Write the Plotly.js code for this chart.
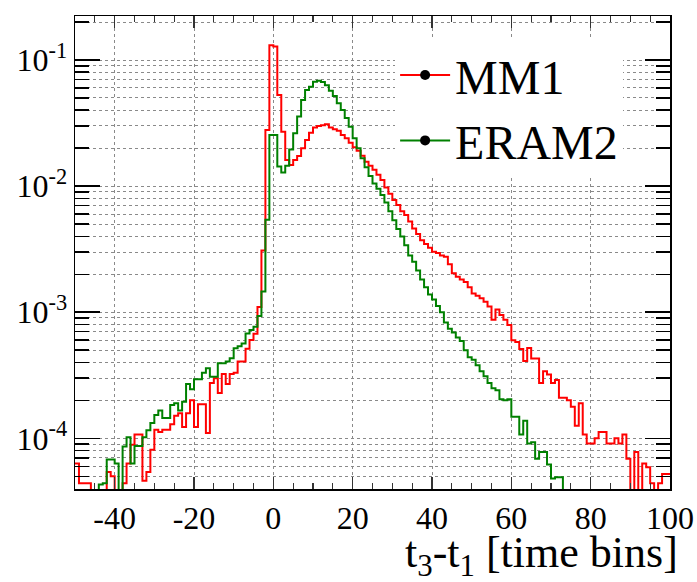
<!DOCTYPE html>
<html><head><meta charset="utf-8">
<script src="https://cdn.plot.ly/plotly-3.0.1.min.js"></script>
<style>html,body{margin:0;padding:0;background:#fff}#chart{width:697px;height:582px}</style>
</head><body><div id="chart"></div>
<script>
// histogram range and binning (bins of 1 time bin from -50 to 100)
const xMin = -50, xMax = 100, binWidth = 1;

// MM1 normalised counts, one value per bin from -50 to 99
const mm1 = [
  6.3e-5, 4.4e-5, 4.4e-5, 4.4e-5, 0, 0, 0, 0, 5.4e-5, 5.0e-5,
  0, 0, 4.4e-5, 6.3e-5, 8.9e-5, 1.07e-4, 1.07e-4, 4.6e-5, 5.4e-5, 8.1e-5,
  1.17e-4, 1.12e-4, 1.17e-4, 1.17e-4, 1.29e-4, 1.51e-4, 1.58e-4, 1.23e-4, 1.58e-4, 2.0e-4,
  1.23e-4, 1.86e-4, 1.86e-4, 1.10e-4, 2.75e-4, 3.0e-4, 2.29e-4, 3.24e-4, 2.69e-4, 3.24e-4,
  3.31e-4, 4.07e-4, 4.07e-4, 5.13e-4, 6.03e-4, 6.76e-4, 1.10e-3, 3.09e-3, 0.0279, 0.131,
  0.128, 0.0527, 0.027, 0.0161, 0.0147, 0.0161, 0.0173, 0.0200, 0.0232, 0.0265,
  0.0292, 0.0300, 0.0304, 0.0309, 0.0292, 0.0282, 0.0275, 0.0254, 0.0240, 0.0221,
  0.0203, 0.0191, 0.0174, 0.0156, 0.0145, 0.0135, 0.0123, 0.0112, 0.00977, 0.00871,
  0.00776, 0.00708, 0.00631, 0.00590, 0.00525, 0.00462, 0.00417, 0.00372, 0.00347, 0.00324,
  0.00302, 0.00295, 0.00282, 0.00275, 0.00240, 0.00204, 0.00191, 0.00182, 0.00174, 0.00158,
  0.00141, 0.00135, 0.00129, 0.00121, 0.00111, 0.00087, 0.00105, 0.00095, 0.00087, 0.00079,
  6.0e-4, 5.8e-4, 5.1e-4, 4.1e-4, 5.2e-4, 4.3e-4, 4.3e-4, 2.75e-4, 3.4e-4, 3.2e-4,
  2.75e-4, 2.9e-4, 2.1e-4, 2.1e-4, 2.0e-4, 1.78e-4, 1.26e-4, 1.9e-4, 1.07e-4, 9.1e-5,
  9.1e-5, 1.0e-4, 1.12e-4, 1.12e-4, 9.1e-5, 9.1e-5, 1.0e-4, 9.1e-5, 1.07e-4, 6.9e-5,
  0, 7.8e-5, 0, 6.3e-5, 5.9e-5, 4.4e-5, 0, 4.4e-5, 5.2e-5, 5.2e-5
];

// ERAM2 normalised counts, one value per bin from -50 to 99
const eram2 = [
  0, 0, 0, 0, 0, 0, 4.3e-5, 4.4e-5, 6.8e-5, 6.8e-5,
  6.3e-5, 0, 8.6e-5, 1.02e-4, 6.3e-5, 8.7e-5, 8.7e-5, 1.02e-4, 1.16e-4, 1.32e-4,
  1.53e-4, 1.66e-4, 1.45e-4, 1.45e-4, 1.84e-4, 1.90e-4, 1.66e-4, 1.95e-4, 2.70e-4, 2.45e-4,
  2.94e-4, 2.94e-4, 3.31e-4, 3.59e-4, 3.08e-4, 3.08e-4, 3.94e-4, 3.94e-4, 4.07e-4, 4.31e-4,
  5.18e-4, 5.37e-4, 5.66e-4, 6.79e-4, 7.23e-4, 7.67e-4, 9.33e-4, 1.46e-3, 5.4e-3, 0.0254,
  0.0254, 0.0143, 0.0128, 0.0145, 0.0195, 0.0262, 0.0356, 0.0482, 0.0578, 0.0614,
  0.0673, 0.0686, 0.0668, 0.0631, 0.0571, 0.0519, 0.0454, 0.0401, 0.0347, 0.0295,
  0.0240, 0.0200, 0.0166, 0.0141, 0.0120, 0.0105, 0.00955, 0.00851, 0.00741, 0.00631,
  0.00537, 0.00457, 0.00398, 0.00339, 0.00282, 0.00251, 0.00214, 0.00182, 0.00158, 0.00138,
  0.00126, 0.00112, 0.00100, 0.00083, 0.00074, 0.00069, 0.00063, 0.00059, 0.00050, 0.00044,
  4.2e-4, 3.8e-4, 3.4e-4, 3.1e-4, 2.75e-4, 2.5e-4, 2.4e-4, 2.04e-4, 2.0e-4, 2.04e-4,
  1.48e-4, 1.48e-4, 1.07e-4, 1.38e-4, 9.1e-5, 9.3e-5, 6.9e-5, 7.8e-5, 7.8e-5, 6.2e-5,
  4.8e-5, 4.9e-5, 4.9e-5, 0, 0, 0, 0, 0, 0, 0,
  0, 0, 0, 0, 0, 0, 0, 0, 0, 0,
  0, 0, 0, 0, 0, 0, 0, 0, 0, 0
];

const seriesNames = ['MM1', 'ERAM2'];
const xTickVals = [-40, -20, 0, 20, 40, 60, 80, 100];
const xTickText = ['-40', '-20', '0', '20', '40', '60', '80', '100'];
const yTickVals = [1e-4, 1e-3, 1e-2, 1e-1];
const yTickText = ['10<sup>-4</sup>', '10<sup>-3</sup>', '10<sup>-2</sup>', '10<sup>-1</sup>'];
const xTitle = 't<sub>3</sub>-t<sub>1</sub> [time bins]';

const FONT = '"Liberation Serif", "Times New Roman", serif';
const RED = 'rgb(255,0,0)';
const GREEN = 'rgb(0,128,0)';

// minor log ticks 2..9 in each decade
const yMinorVals = [];
for (let d = -5; d <= 0; d++) for (let k = 2; k <= 9; k++) yMinorVals.push(k * Math.pow(10, d));

// build a histogram step outline (empty bins drop below the axis)
function stepXY(vals) {
  const floor = 1e-7;
  const xs = [], ys = [];
  vals.forEach((v, i) => { xs.push(xMin + i * binWidth); ys.push(v > 0 ? v : floor); });
  xs.push(xMax); ys.push(vals[vals.length - 1] > 0 ? vals[vals.length - 1] : floor);
  return {xs, ys};
}

const s1 = stepXY(mm1), s2 = stepXY(eram2);
const traces = [
  {x: s1.xs, y: s1.ys, mode: 'lines', line: {shape: 'hv', color: RED, width: 2}, showlegend: false, hoverinfo: 'skip'},
  {x: s2.xs, y: s2.ys, mode: 'lines', line: {shape: 'hv', color: GREEN, width: 2}, showlegend: false, hoverinfo: 'skip'},
  {x: [null], y: [null], name: seriesNames[0], mode: 'lines+markers', line: {color: RED, width: 2}, marker: {color: '#000', size: 10}},
  {x: [null], y: [null], name: seriesNames[1], mode: 'lines+markers', line: {color: GREEN, width: 2}, marker: {color: '#000', size: 10}}
];

const gridStyle = {gridcolor: '#8a8a8a', griddash: 'dot', gridwidth: 1};
const layout = {
  width: 697, height: 582,
  margin: {l: 75, r: 27, t: 16, b: 93},
  paper_bgcolor: '#fff', plot_bgcolor: '#fff',
  font: {family: FONT, color: '#000'},
  showlegend: true,
  legend: {x: 0.538, y: 0.955, xanchor: 'left', yanchor: 'top', bgcolor: '#fff', borderwidth: 0,
           font: {size: 48, family: FONT, color: '#000'}, itemwidth: 50, tracegroupgap: 0},
  xaxis: Object.assign({
    range: [xMin, xMax], tickmode: 'array', tickvals: xTickVals, ticktext: xTickText,
    ticks: 'inside', ticklen: 12, tickwidth: 1.2, tickcolor: '#333',
    showline: true, linecolor: '#000', linewidth: 1.5, mirror: 'allticks',
    showgrid: true, zeroline: false,
    tickfont: {size: 32, family: FONT, color: '#000'},
    minor: {tickmode: 'linear', tick0: 0, dtick: 5, ticks: 'inside', ticklen: 6, tickcolor: '#333', tickwidth: 1.2, showgrid: false}
  }, gridStyle),
  yaxis: Object.assign({
    type: 'log', range: [-4.402, -0.651],
    tickmode: 'array', tickvals: yTickVals, ticktext: yTickText,
    ticks: 'inside', ticklen: 25, tickwidth: 1.5, tickcolor: '#000',
    showline: true, linecolor: '#000', linewidth: 1.5, mirror: 'allticks',
    showgrid: true, zeroline: false,
    tickfont: {size: 32, family: FONT, color: '#000'},
    minor: Object.assign({tickmode: 'array', tickvals: yMinorVals, ticks: 'inside', ticklen: 14, tickcolor: '#000', tickwidth: 1.5, showgrid: true}, gridStyle)
  }, gridStyle),
  annotations: [{
    text: xTitle, xref: 'paper', yref: 'paper', x: 1.016, y: -0.141,
    xanchor: 'right', yanchor: 'middle', showarrow: false,
    font: {size: 44, family: FONT, color: '#000'}
  }]
};

Plotly.newPlot('chart', traces, layout, {displayModeBar: false, staticPlot: true});
</script>
</body></html>
